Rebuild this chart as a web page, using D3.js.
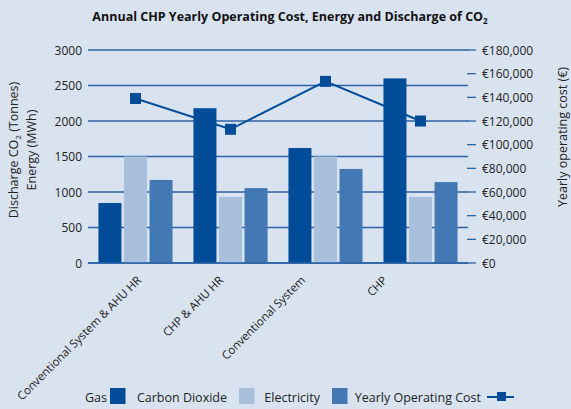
<!DOCTYPE html>
<html>
  <head>
    <style>
      body { margin: 0; background: #d9e3ef; }
      svg { display: block; font-family: 'Open Sans', 'Noto Sans', sans-serif; }
    </style>
  </head>
  <body>
    <svg id="svg" width="571" height="409"></svg>
    <script src="https://cdn.jsdelivr.net/npm/d3@7"></script>
    <script>
      const categories = ['Conventional System & AHU HR', 'CHP & AHU HR', 'Conventional System', 'CHP'];
      const gas = [845, 2180, 1620, 2600];
      const carbonDioxide = [1500, 930, 1500, 930];
      const electricity = [1170, 1055, 1325, 1140];
      const operatingCost = [139000, 113000, 153500, 120000];
      const leftTicks = [0, 500, 1000, 1500, 2000, 2500, 3000];
      const rightTicks = d3.range(0, 180001, 20000);

      const colors = { gas: '#004c99', co2: '#a8c0dc', elec: '#4279b5', line: '#004c99' };
      const svg = d3.select('#svg');
      const plotLeft = 88, plotRight = 468, plotTop = 50, plotBottom = 263;

      const x = d3.scaleBand().domain(categories).range([plotLeft, plotRight]).paddingInner(0.22).paddingOuter(0.11);
      const xSub = d3.scaleBand().domain(['gas', 'co2', 'elec']).range([0, x.bandwidth()]).paddingInner(0.1);
      const yLeft = d3.scaleLinear().domain([0, 3000]).range([plotBottom, plotTop]);
      const yRight = d3.scaleLinear().domain([0, 180000]).range([plotBottom, plotTop]);
      const center = (c) => x(c) + x.bandwidth() / 2;

      // title
      const title = svg.append('text')
        .attr('x', 290).attr('y', 21)
        .attr('text-anchor', 'middle')
        .attr('font-size', 12.5).attr('font-weight', 'bold').attr('fill', '#111');
      title.append('tspan').text('Annual CHP Yearly Operating Cost, Energy and Discharge of CO');
      title.append('tspan').attr('font-size', 8).attr('dy', 3).text('2');

      // gridlines from left axis
      svg.append('g').selectAll('line').data(leftTicks).join('line')
        .attr('x1', plotLeft).attr('x2', plotRight)
        .attr('y1', (d) => yLeft(d)).attr('y2', (d) => yLeft(d))
        .attr('stroke', '#2a62a6').attr('stroke-width', 1.3);

      // left tick labels
      svg.append('g').selectAll('text').data(leftTicks).join('text')
        .attr('x', 82).attr('y', (d) => yLeft(d) + 4.5)
        .attr('text-anchor', 'end').attr('font-size', 12).attr('fill', '#222')
        .text((d) => d);

      // right axis ticks and labels
      svg.append('g').selectAll('line').data(rightTicks).join('line')
        .attr('x1', 467).attr('x2', 476)
        .attr('y1', (d) => yRight(d)).attr('y2', (d) => yRight(d))
        .attr('stroke', '#2a62a6').attr('stroke-width', 1.3);
      svg.append('g').selectAll('text').data(rightTicks).join('text')
        .attr('x', 482).attr('y', (d) => yRight(d) + 4.5)
        .attr('font-size', 12).attr('fill', '#222')
        .text((d) => '€' + d3.format(',')(d));

      // bars
      const series = [
        { key: 'gas', values: gas },
        { key: 'co2', values: carbonDioxide },
        { key: 'elec', values: electricity },
      ];
      series.forEach((s) => {
        svg.append('g').selectAll('rect').data(categories).join('rect')
          .attr('x', (c) => x(c) + xSub(s.key))
          .attr('width', xSub.bandwidth())
          .attr('y', (c, i) => yLeft(s.values[i]))
          .attr('height', (c, i) => plotBottom - yLeft(s.values[i]))
          .attr('fill', colors[s.key]);
      });

      // baseline
      svg.append('line')
        .attr('x1', plotLeft).attr('x2', plotRight).attr('y1', plotBottom).attr('y2', plotBottom)
        .attr('stroke', '#2a62a6').attr('stroke-width', 1.3);

      // operating cost line
      const line = d3.line().x((d, i) => center(categories[i])).y((d) => yRight(d));
      svg.append('path').attr('d', line(operatingCost))
        .attr('fill', 'none').attr('stroke', colors.line).attr('stroke-width', 2);
      svg.append('g').selectAll('rect').data(operatingCost).join('rect')
        .attr('x', (d, i) => center(categories[i]) - 5.5)
        .attr('y', (d) => yRight(d) - 5.5)
        .attr('width', 11).attr('height', 11)
        .attr('fill', colors.line);

      // x labels
      const labelX = d3.scalePoint().domain(categories).range([142, 388]);
      svg.append('g').selectAll('text').data(categories).join('text')
        .attr('transform', (c) => `translate(${labelX(c)},${281}) rotate(-45)`)
        .attr('text-anchor', 'end').attr('font-size', 11.5).attr('fill', '#222')
        .text((c) => c);

      // axis titles
      const lt = svg.append('text')
        .attr('transform', 'translate(18,150) rotate(-90)')
        .attr('text-anchor', 'middle').attr('font-size', 12.5).attr('fill', '#222');
      lt.append('tspan').text('Discharge CO');
      lt.append('tspan').attr('font-size', 8).attr('dy', 3).text('2');
      lt.append('tspan').attr('dy', -3).text(' (Tonnes)');
      svg.append('text')
        .attr('transform', 'translate(36,150) rotate(-90)')
        .attr('text-anchor', 'middle').attr('font-size', 12.5).attr('fill', '#222')
        .text('Energy (MWh)');
      svg.append('text')
        .attr('transform', 'translate(567,137) rotate(-90)')
        .attr('text-anchor', 'middle').attr('font-size', 12.5).attr('fill', '#222')
        .text('Yearly operating cost (€)');

      // legend
      const legend = svg.append('g').attr('font-size', 12.5).attr('fill', '#222');
      const legendItems = [
        { label: 'Gas', key: 'gas', tx: 107, sx: 110 },
        { label: 'Carbon Dioxide', key: 'co2', tx: 227, sx: 239 },
        { label: 'Electricity', key: 'elec', tx: 320, sx: 332 },
      ];
      legendItems.forEach((it) => {
        legend.append('text').attr('x', it.tx).attr('y', 402).attr('text-anchor', 'end').text(it.label);
        legend.append('rect').attr('x', it.sx).attr('y', 388).attr('width', 15.5).attr('height', 16).attr('fill', colors[it.key]);
      });
      legend.append('text').attr('x', 481).attr('y', 402).attr('text-anchor', 'end').text('Yearly Operating Cost');
      legend.append('line').attr('x1', 487).attr('x2', 514).attr('y1', 397).attr('y2', 397)
        .attr('stroke', colors.line).attr('stroke-width', 2);
      legend.append('rect').attr('x', 497).attr('y', 392).attr('width', 9).attr('height', 9).attr('fill', colors.line);
    </script>
  </body>
</html>
